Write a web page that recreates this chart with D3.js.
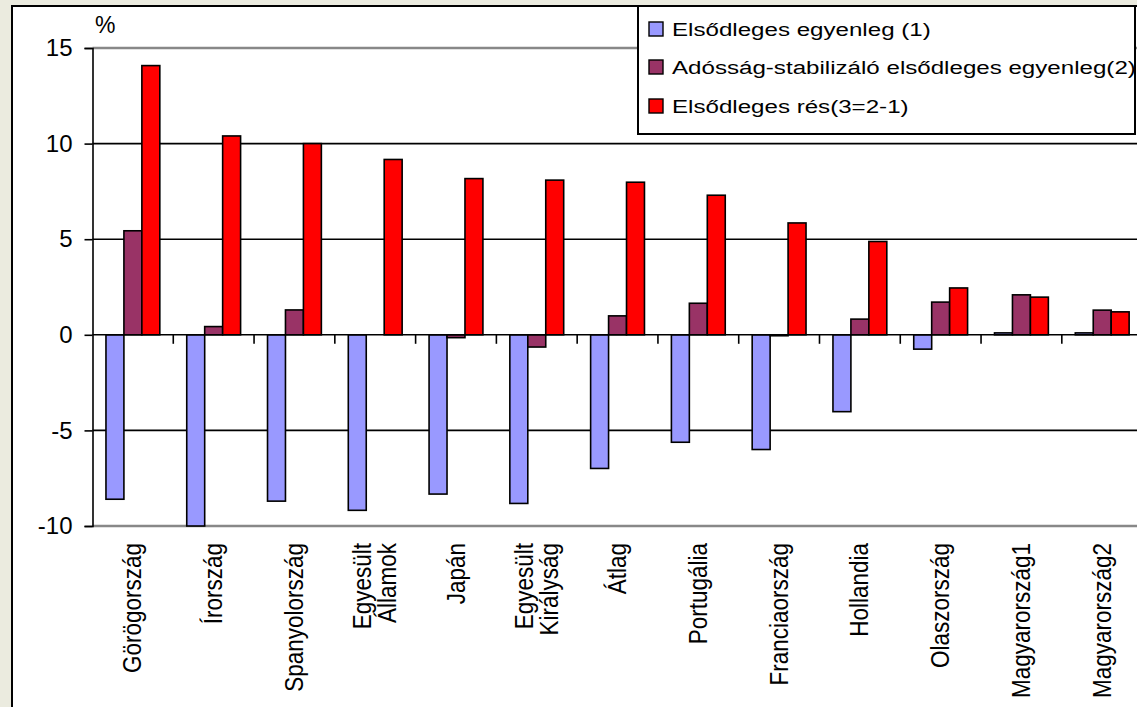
<!DOCTYPE html>
<html>
<head>
<meta charset="utf-8">
<script src="https://cdn.jsdelivr.net/npm/d3@7"></script>
<style>
  html, body { margin: 0; padding: 0; background: #EBEBDF; }
  svg { display: block; }
  text { font-family: "Liberation Sans", Arial, sans-serif; fill: #000; }
</style>
</head>
<body>
<svg id="chart" width="1137" height="707"></svg>
<script>
// Countries (two-line labels are split with "\n")
const categories = [
  "Görögország", "Írország", "Spanyolország", "Egyesült\nÁllamok", "Japán",
  "Egyesült\nKirályság", "Átlag", "Portugália", "Franciaország", "Hollandia",
  "Olaszország", "Magyarország1", "Magyarország2"
];

// Series values, %
const primaryBalance  = [-8.6, -10.0, -8.7, -9.18, -8.33, -8.82, -6.99, -5.62, -6.0, -4.02, -0.75, 0.1, 0.1];
const debtStabilizing = [5.44, 0.43, 1.3, 0.0, -0.15, -0.64, 0.99, 1.65, -0.05, 0.82, 1.71, 2.09, 1.29];
const primaryGap      = [14.08, 10.4, 10.0, 9.17, 8.17, 8.09, 7.98, 7.3, 5.85, 4.88, 2.45, 1.97, 1.2];

const seriesNames = [
  "Elsődleges egyenleg (1)",
  "Adósság-stabilizáló elsődleges egyenleg(2)",
  "Elsődleges rés(3=2-1)"
];
const seriesColors = ["#9999FF", "#993366", "#FF0000"];
const yTicks = [-10, -5, 0, 5, 10, 15];

const seriesValues = [primaryBalance, debtStabilizing, primaryGap];

const svg = d3.select("#chart");

// White chart area with its frame
svg.append("rect")
  .attr("x", 12).attr("y", 6).attr("width", 1140).attr("height", 720)
  .attr("fill", "#fff").attr("stroke", "#000").attr("stroke-width", 2);

const plot = { left: 92.5, right: 1142.6, top: 48, bottom: 526 };

const x = d3.scaleBand()
  .domain(categories)
  .range([plot.left, plot.right])
  .paddingInner(0).paddingOuter(0);

const xs = d3.scaleBand()
  .domain(d3.range(seriesNames.length))
  .range([0, x.bandwidth()])
  .paddingInner(0).paddingOuter(0.75);

const y = d3.scaleLinear().domain([-10, 15]).range([plot.bottom, plot.top]);

// Gridlines
svg.append("g").selectAll("line")
  .data(yTicks.filter(v => v !== 0 && v !== -10 && v !== 15))
  .join("line")
  .attr("x1", plot.left).attr("x2", plot.right)
  .attr("y1", d => y(d)).attr("y2", d => y(d))
  .attr("stroke", "#000").attr("stroke-width", 1.6);

// Plot area border (top and bottom)
svg.append("g").selectAll("line")
  .data([15, -10])
  .join("line")
  .attr("x1", plot.left).attr("x2", plot.right)
  .attr("y1", d => y(d)).attr("y2", d => y(d))
  .attr("stroke", "#888").attr("stroke-width", 2.5);

// Bars
const groups = svg.append("g").selectAll("g")
  .data(seriesValues)
  .join("g")
  .attr("fill", (d, i) => seriesColors[i]);

groups.each(function(vals, si) {
  d3.select(this).selectAll("rect")
    .data(vals.map((v, ci) => ({ v, c: categories[ci] })))
    .join("rect")
    .attr("x", d => x(d.c) + xs(si))
    .attr("width", xs.bandwidth())
    .attr("y", d => y(Math.max(0, d.v)))
    .attr("height", d => Math.abs(y(d.v) - y(0)))
    .attr("stroke", "#000").attr("stroke-width", 1.6);
});

// Zero axis line
svg.append("line")
  .attr("x1", plot.left).attr("x2", plot.right)
  .attr("y1", y(0)).attr("y2", y(0))
  .attr("stroke", "#000").attr("stroke-width", 1.6);

// Category boundary ticks on the zero axis
svg.append("g").selectAll("line")
  .data(categories.slice(1))
  .join("line")
  .attr("x1", d => x(d)).attr("x2", d => x(d))
  .attr("y1", y(0)).attr("y2", y(0) + 9)
  .attr("stroke", "#000").attr("stroke-width", 1.6);

// Y axis
const yAxis = svg.append("g")
  .attr("transform", `translate(${plot.left},0)`)
  .call(d3.axisLeft(y).tickValues(yTicks).tickSize(8).tickPadding(12).tickFormat(d3.format("d")));
yAxis.select(".domain").attr("stroke", "#000").attr("stroke-width", 1.6);
yAxis.selectAll(".tick line").attr("stroke", "#000").attr("stroke-width", 1.6);
yAxis.selectAll(".tick text")
  .attr("font-size", 24)
  .attr("font-family", '"Liberation Sans", Arial, sans-serif')
  .attr("fill", "#000")
  .text(d => d < 0 ? "-" + Math.abs(d) : d);

// Unit label
svg.append("text")
  .attr("x", 95).attr("y", 33)
  .attr("font-size", 23)
  .text("%");

// Category labels, rotated
const labelTop = 543;
svg.append("g").selectAll("text")
  .data(categories)
  .join("text")
  .attr("font-size", 22.5)
  .attr("text-anchor", "end")
  .attr("transform", d => `translate(${x(d) + x.bandwidth() / 2 - 1},${labelTop}) rotate(-90) scale(1,1.18)`)
  .each(function(d) {
    const lines = d.split("\n");
    const lh = 21;
    const t = d3.select(this);
    lines.forEach((ln, i) => {
      t.append("tspan")
        .attr("x", 0)
        .attr("y", (i - (lines.length - 1) / 2) * lh)
        .attr("dy", "0.36em")
        .text(ln);
    });
  });

// Legend
const legend = svg.append("g");
legend.append("rect")
  .attr("x", 638).attr("y", 6).attr("width", 497).attr("height", 128)
  .attr("fill", "#fff").attr("stroke", "#000").attr("stroke-width", 2);

const legendRows = [29, 67, 106];
const legendItems = legend.selectAll("g.item")
  .data(seriesNames)
  .join("g")
  .attr("class", "item")
  .attr("transform", (d, i) => `translate(649,${legendRows[i]})`);

legendItems.append("rect")
  .attr("x", 0).attr("y", -7).attr("width", 14).attr("height", 14)
  .attr("fill", (d, i) => seriesColors[i])
  .attr("stroke", "#000").attr("stroke-width", 1.4);

legendItems.append("text")
  .attr("transform", "translate(23,0) scale(1.27,1)")
  .attr("dy", "0.36em")
  .attr("font-size", 19)
  .text(d => d);
</script>
</body>
</html>
